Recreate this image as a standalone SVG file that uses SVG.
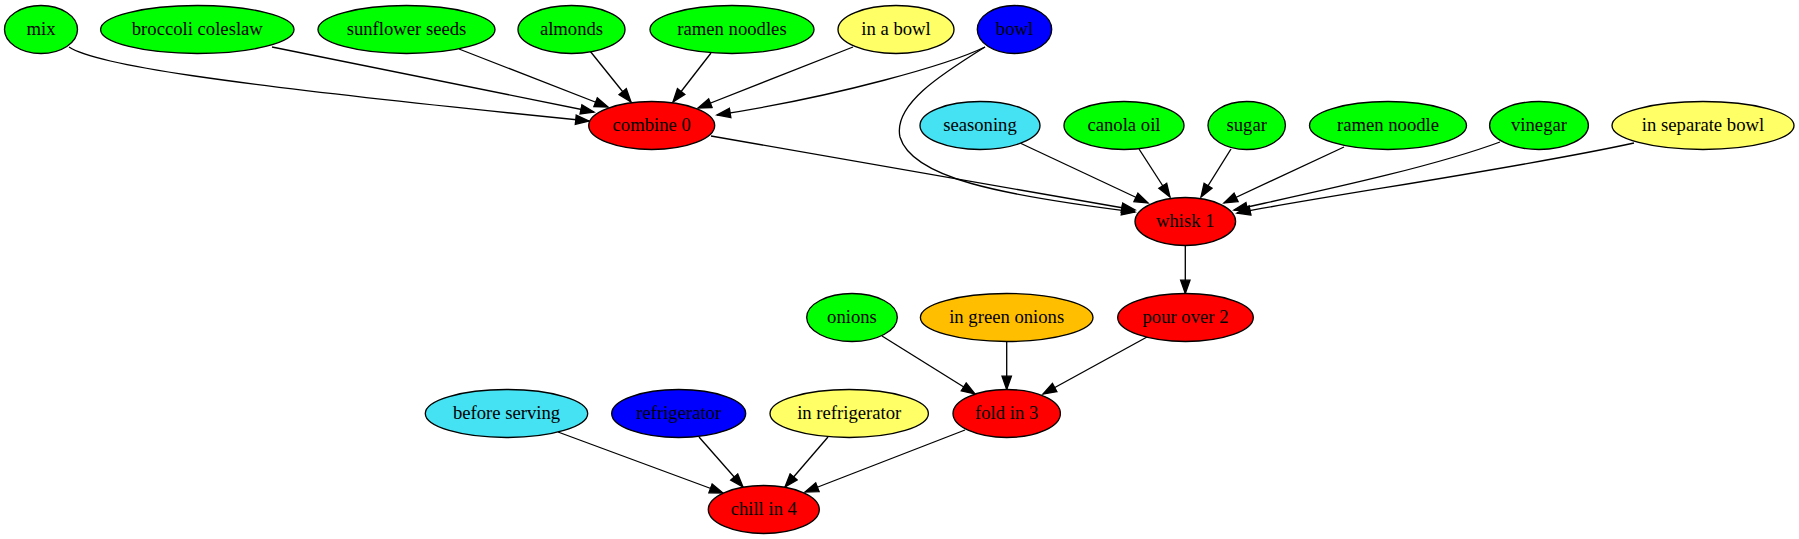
<svg xmlns="http://www.w3.org/2000/svg" width="1799" height="539" viewBox="0 0 1799 539">
<style>
.n ellipse{stroke:#000;stroke-width:1.33}
.n text{font-family:"Liberation Serif","Times New Roman",serif;font-size:18.67px;text-anchor:middle;fill:#000}
.g{fill:#00ff00}.r{fill:#ff0000}.b{fill:#0000ff}.y{fill:#ffff66}.c{fill:#44e2f2}.o{fill:#ffbf00}
#edges path{fill:none;stroke:#000;stroke-width:1.33;marker-end:url(#ah)}
</style>
<defs>
<marker id="ah" markerUnits="userSpaceOnUse" markerWidth="16" markerHeight="12" viewBox="-1 -6 16 12" refX="13.3" refY="0" orient="auto">
<path d="M0,-4.67 L13.3,0 L0,4.67 Z" fill="#000" stroke="#000" stroke-width="1.33"/>
</marker>
</defs>
<rect width="1799" height="539" fill="#fff"/>
<g id="edges">
<path d="M69,47 C95,64 200,82 589,121"/>
<path d="M272,47 L594,112"/>
<path d="M459,49 L608,107"/>
<path d="M590,51 L631,102"/>
<path d="M711,53 L673,102"/>
<path d="M853,47 L698,108"/>
<path d="M985,47 C950,64 840,96 717,115"/>
<path d="M985,47 C940,75 893,105 900,137 C912,178 1000,195 1135,212"/>
<path d="M711,136 L1135,210"/>
<path d="M1020,143 L1148,203"/>
<path d="M1139,149 L1170,197"/>
<path d="M1231,149 L1201,197"/>
<path d="M1344,147 L1224,203"/>
<path d="M1500,142 C1430,168 1310,193 1234,210"/>
<path d="M1634,143 C1520,168 1330,195 1237,213"/>
<path d="M1185.3,245.5 L1185.3,293.5"/>
<path d="M882,336 L975,394"/>
<path d="M1006.7,341.5 L1006.7,389.5"/>
<path d="M1147,337 L1043,394"/>
<path d="M558,432 L723,493"/>
<path d="M699,437 L743,487"/>
<path d="M828,437 L785,487"/>
<path d="M965,430 L805,492"/>
</g>
<g id="mix" class="n"><ellipse class="g" cx="41" cy="29.5" rx="36.5" ry="24"/><text x="41" y="34.5">mix</text></g>
<g id="broccoli_coleslaw" class="n"><ellipse class="g" cx="197.3" cy="29.5" rx="96.7" ry="24"/><text x="197.3" y="34.5">broccoli coleslaw</text></g>
<g id="sunflower_seeds" class="n"><ellipse class="g" cx="406.5" cy="29.5" rx="88.5" ry="24"/><text x="406.5" y="34.5">sunflower seeds</text></g>
<g id="almonds" class="n"><ellipse class="g" cx="571.5" cy="29.5" rx="53.5" ry="24"/><text x="571.5" y="34.5">almonds</text></g>
<g id="ramen_noodles" class="n"><ellipse class="g" cx="732" cy="29.5" rx="82" ry="24"/><text x="732" y="34.5">ramen noodles</text></g>
<g id="in_a_bowl" class="n"><ellipse class="y" cx="896" cy="29.5" rx="58" ry="24"/><text x="896" y="34.5">in a bowl</text></g>
<g id="bowl" class="n"><ellipse class="b" cx="1014.5" cy="29.5" rx="37.2" ry="24"/><text x="1014.5" y="34.5">bowl</text></g>
<g id="combine_0" class="n"><ellipse class="r" cx="651.7" cy="125.5" rx="63" ry="24"/><text x="651.7" y="130.5">combine 0</text></g>
<g id="seasoning" class="n"><ellipse class="c" cx="980" cy="125.5" rx="60" ry="24"/><text x="980" y="130.5">seasoning</text></g>
<g id="canola_oil" class="n"><ellipse class="g" cx="1124" cy="125.5" rx="60" ry="24"/><text x="1124" y="130.5">canola oil</text></g>
<g id="sugar" class="n"><ellipse class="g" cx="1246.7" cy="125.5" rx="38.7" ry="24"/><text x="1246.7" y="130.5">sugar</text></g>
<g id="ramen_noodle" class="n"><ellipse class="g" cx="1388" cy="125.5" rx="78.5" ry="24"/><text x="1388" y="130.5">ramen noodle</text></g>
<g id="vinegar" class="n"><ellipse class="g" cx="1539" cy="125.5" rx="49.4" ry="24"/><text x="1539" y="130.5">vinegar</text></g>
<g id="in_separate_bowl" class="n"><ellipse class="y" cx="1703" cy="125.5" rx="91" ry="24"/><text x="1703" y="130.5">in separate bowl</text></g>
<g id="whisk_1" class="n"><ellipse class="r" cx="1185.3" cy="221.5" rx="50.3" ry="24"/><text x="1185.3" y="226.5">whisk 1</text></g>
<g id="onions" class="n"><ellipse class="g" cx="852" cy="317.5" rx="45.3" ry="24"/><text x="852" y="322.5">onions</text></g>
<g id="in_green_onions" class="n"><ellipse class="o" cx="1006.7" cy="317.5" rx="86.3" ry="24"/><text x="1006.7" y="322.5">in green onions</text></g>
<g id="pour_over_2" class="n"><ellipse class="r" cx="1185.5" cy="317.5" rx="67.8" ry="24"/><text x="1185.5" y="322.5">pour over 2</text></g>
<g id="fold_in_3" class="n"><ellipse class="r" cx="1006.7" cy="413.5" rx="53.7" ry="24"/><text x="1006.7" y="418.5">fold in 3</text></g>
<g id="before_serving" class="n"><ellipse class="c" cx="506.5" cy="413.5" rx="81.2" ry="24"/><text x="506.5" y="418.5">before serving</text></g>
<g id="refrigerator" class="n"><ellipse class="b" cx="678.7" cy="413.5" rx="67" ry="24"/><text x="678.7" y="418.5">refrigerator</text></g>
<g id="in_refrigerator" class="n"><ellipse class="y" cx="849.2" cy="413.5" rx="79.2" ry="24"/><text x="849.2" y="418.5">in refrigerator</text></g>
<g id="chill_in_4" class="n"><ellipse class="r" cx="763.8" cy="509.5" rx="55.5" ry="24"/><text x="763.8" y="514.5">chill in 4</text></g>
</svg>
